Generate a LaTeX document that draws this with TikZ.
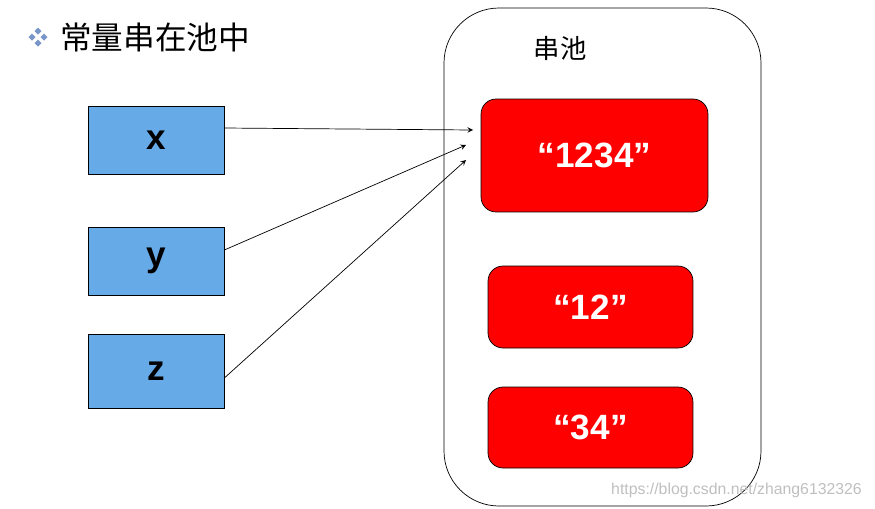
\documentclass[tikz,border=0pt]{standalone}
\usepackage{fontspec}
\setmainfont{Liberation Sans}
\newfontfamily\cjk{Noto Sans CJK SC}
\usetikzlibrary{positioning}
\definecolor{varblue}{RGB}{102,170,232}
\definecolor{strred}{RGB}{255,0,0}
\definecolor{bulletblue}{RGB}{120,150,200}
\tikzset{
  varbox/.style={draw, fill=varblue, minimum width=2.72cm, minimum height=1.36cm, font=\fontsize{20}{24}\selectfont\bfseries},
  strbox/.style={draw, fill=strred, rounded corners=0.3cm, text=white, font=\fontsize{20}{24}\selectfont\bfseries},
  ref/.style={->, >=stealth, thin}
}
\begin{document}
\begin{tikzpicture}[x=0.02cm, y=-0.02cm]
\useasboundingbox (0,0) rectangle (875,508);
% title with bullet
\foreach \dx/\dy in {0/-6, 0/6, -6/0, 6/0}
  \fill[bulletblue] (38+\dx,37+\dy) ++(0,-3.5) -- ++(3.5,3.5) -- ++(-3.5,3.5) -- ++(-3.5,-3.5) -- cycle;
\node[anchor=west, font=\cjk\fontsize{18}{22}\selectfont] (title) at (54,37) {常量串在池中};
% pool
\draw[rounded corners=1.1cm] (444,8) rectangle (761,506);
\node[font=\cjk\fontsize{15}{18}\selectfont] (pool) at (560,48) {串池};
% strings
\node[strbox, minimum width=4.54cm, minimum height=2.26cm] (s1234) at (594.5,155.5) {“1234”};
\node[strbox, minimum width=4.1cm, minimum height=1.64cm] (s12) at (590.5,307) {“12”};
\node[strbox, minimum width=4.1cm, minimum height=1.62cm] (s34) at (590.5,427.5) {“34”};
% variables
\node[varbox] (x) at (156,140.5) {x};
\node[varbox] (y) at (156,261) {y};
\node[varbox, minimum height=1.48cm] (z) at (156,371) {z};
\coordinate (tx) at (473,130);
\coordinate (ty) at (466,145);
\coordinate (tz) at (466,160);
\draw[ref] (x.east |- 0,128) -- (tx);
\draw[ref] (y.east |- 0,250) -- (ty);
\draw[ref] (z.east |- 0,378) -- (tz);
\node[anchor=east, text=black!25, font=\fontsize{9}{11}\selectfont] (mark) at (868,490) {https://blog.csdn.net/zhang6132326};
\end{tikzpicture}
\end{document}
